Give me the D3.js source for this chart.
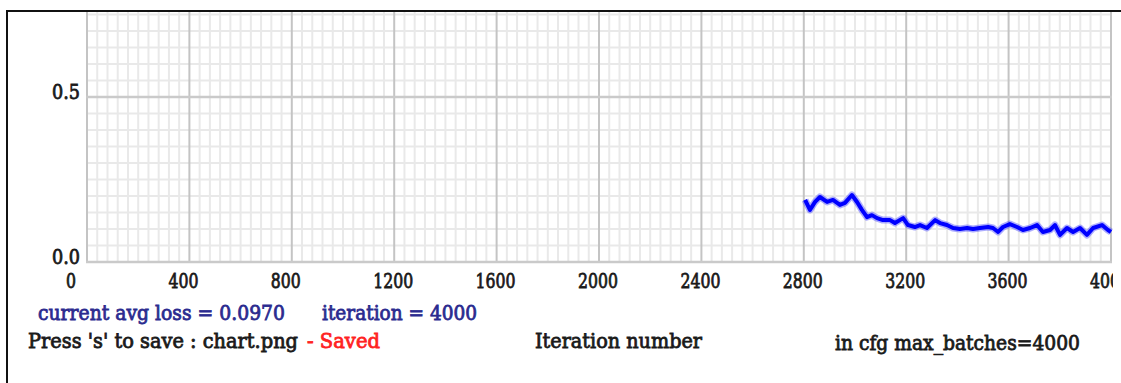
<!DOCTYPE html>
<html><head><meta charset="utf-8">
<script src="https://cdn.jsdelivr.net/npm/d3@7"></script>
<style>html,body{margin:0;padding:0;background:#fff;overflow:hidden}</style>
</head><body>
<script>
// ---- data ----
const xTicks = [0,400,800,1200,1600,2000,2400,2800,3200,3600,4000];
const yTicks = [0.0, 0.5];
const yTickLabels = ["0.0","0.5"];
const iterations = [2805,2824,2844,2863,2891,2914,2941,2961,2988,3008,3027,3047,3066,3086,3109,3137,3156,3188,3207,3234,3254,3281,3313,3332,3359,3383,3410,3438,3461,3488,3520,3539,3559,3578,3605,3633,3656,3684,3711,3734,3762,3781,3801,3828,3852,3879,3906,3930,3965,3988,4000];
const losses = [0.188,0.158,0.182,0.197,0.182,0.188,0.173,0.179,0.203,0.182,0.158,0.136,0.142,0.133,0.127,0.127,0.118,0.133,0.112,0.106,0.112,0.103,0.127,0.118,0.112,0.103,0.100,0.103,0.100,0.103,0.106,0.103,0.091,0.106,0.115,0.106,0.097,0.103,0.112,0.091,0.097,0.112,0.082,0.103,0.091,0.103,0.082,0.103,0.112,0.097,0.091];
const statusLoss = "current avg loss = 0.0970";
const statusIter = "iteration = 4000";
const saveText = "Press 's' to save : chart.png";
const savedText = "- Saved";
const xTitle = "Iteration number";
const cfgText = "in cfg max_batches=4000";

const W = 1121, H = 383;
const svg = d3.select("body").append("svg").attr("width", W).attr("height", H);
svg.append("rect").attr("width", W).attr("height", H).attr("fill", "#fff");

const x = d3.scaleLinear().domain([0, 4000]).range([87, 1111]);
const y = d3.scaleLinear().domain([0, 0.76]).range([262, 11.2]);

// frame (top and left edges)
svg.append("line").attr("x1", 6).attr("x2", W).attr("y1", 11).attr("y2", 11).attr("stroke", "#111").attr("stroke-width", 2);
svg.append("line").attr("x1", 7).attr("x2", 7).attr("y1", 11).attr("y2", H).attr("stroke", "#111").attr("stroke-width", 2);

const g = svg.append("g");
// minor grid
const minorX = d3.range(0, 4001, 40).filter(v => v % 400 !== 0);
const minorY = d3.range(1, 16).map(i => i * 0.05).filter(v => Math.abs(v - 0.5) > 1e-6);
g.selectAll(".mx").data(minorX).enter().append("line")
  .attr("x1", d => x(d)).attr("x2", d => x(d)).attr("y1", 12).attr("y2", 262)
  .attr("stroke", "#e9e9e9").attr("stroke-width", 2);
g.selectAll(".my").data(minorY).enter().append("line")
  .attr("x1", 87).attr("x2", 1112).attr("y1", d => y(d)).attr("y2", d => y(d))
  .attr("stroke", "#e9e9e9").attr("stroke-width", 2);
// major grid
g.selectAll(".Mx").data(xTicks).enter().append("line")
  .attr("x1", d => x(d)).attr("x2", d => x(d)).attr("y1", 12).attr("y2", 263)
  .attr("stroke", "#c4c4c4").attr("stroke-width", 2);
g.selectAll(".My").data(yTicks).enter().append("line")
  .attr("x1", 86).attr("x2", 1112).attr("y1", d => y(d)).attr("y2", d => y(d))
  .attr("stroke", "#cacaca").attr("stroke-width", 2.5);

// loss line (soft halo + core to mimic the blurred thick trace)
const pts = iterations.map((it, i) => [it, losses[i]]);
const lineGen = d3.line().x(d => x(d[0])).y(d => y(d[1]));
svg.append("path").datum(pts).attr("d", lineGen)
  .attr("fill", "none").attr("stroke", "#4a4aff").attr("stroke-opacity", 0.45)
  .attr("stroke-width", 7).attr("stroke-linejoin", "round");
svg.append("path").datum(pts).attr("d", lineGen)
  .attr("fill", "none").attr("stroke", "#0000ff").attr("stroke-width", 4)
  .attr("stroke-linejoin", "round");

// text helper
const FONT = "'DejaVu Serif', 'Liberation Serif', serif";
function txt(s, tx, ty, opts = {}) {
  const t = svg.append("text")
    .attr("transform", `translate(${tx},${ty}) scale(1,1.35)`)
    .attr("font-family", FONT).attr("font-size", opts.size || 15)
    .attr("font-weight", "normal")
    .attr("fill", opts.fill || "#1a1a1a")
    .attr("stroke", opts.fill || "#1a1a1a").attr("stroke-width", 0.6)
    .attr("text-anchor", opts.anchor || "start")
    .attr("dominant-baseline", "central")
    .text(s);
  if (opts.len) t.attr("textLength", opts.len).attr("lengthAdjust", "spacingAndGlyphs");
  return t;
}

// clip for x labels (right edge cut as in the reference)
svg.append("clipPath").attr("id", "clipR").append("rect").attr("x", 0).attr("y", 0).attr("width", 1113).attr("height", H);
const xl = svg.append("g").attr("clip-path", "url(#clipR)");
xTicks.forEach(v => {
  const s = String(v);
  xl.append("text")
    .attr("transform", `translate(${x(v) - 21},281) scale(1,1.35)`)
    .attr("font-family", FONT).attr("font-size", 15)
    .attr("fill", "#1a1a1a").attr("stroke", "#1a1a1a").attr("stroke-width", 0.6)
    .attr("dominant-baseline", "central")
    .attr("textLength", s.length * 10).attr("lengthAdjust", "spacingAndGlyphs")
    .text(s);
});
yTicks.forEach((v, i) => {
  txt(yTickLabels[i], 80, y(v) - 5, { anchor: "end", len: 28 });
});

txt(statusLoss, 38, 313, { fill: "#2b2b8f", len: 247 });
txt(statusIter, 322, 313, { fill: "#2b2b8f", len: 155 });
txt(saveText, 28, 341, { len: 270 });
txt(savedText, 307, 341, { fill: "#ff2222", len: 73 });
txt(xTitle, 535, 341, { len: 167 });
txt(cfgText, 835, 343, { len: 245 });
</script>
</body></html>
